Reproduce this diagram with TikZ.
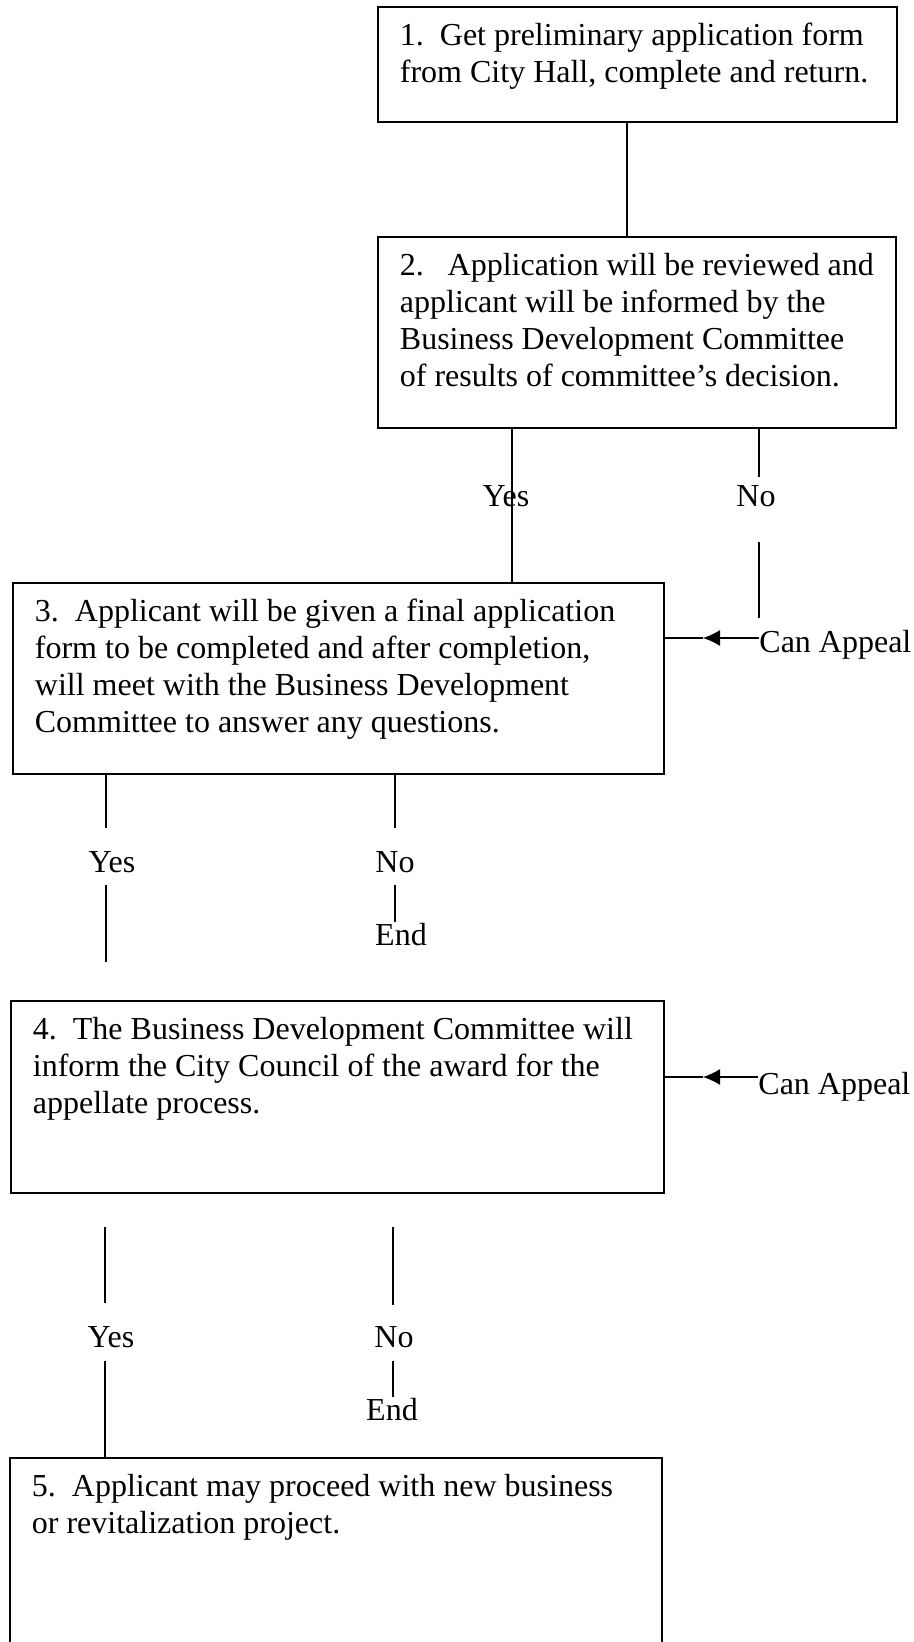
\documentclass[tikz,border=0pt]{standalone}
\usepackage{fontspec}
\setmainfont{Liberation Serif}
\usetikzlibrary{arrows.meta}

\newcommand{\steptextfont}{\fontsize{16}{18.4}\selectfont}
\newcommand{\stepbody}[3]{\parbox[c][#2][t]{#1}{\raggedright\strut#3}}

\tikzset{
	stepbox/.style={draw=black, line width=0.9pt, anchor=north west, inner xsep=11pt, inner ysep=6.5pt, font=\steptextfont},
	lbl/.style={inner sep=0pt, anchor=base, font=\steptextfont},
	link/.style={draw=black, line width=0.6pt},
	appealtip/.style={-{Latex[length=8.5pt,width=8pt]}},
}

\begin{document}
\begin{tikzpicture}[x=0.5pt, y=-0.5pt, line cap=butt]
	\useasboundingbox (0,0) rectangle (914,1642);
	\clip (0,0) rectangle (914,1642);

	%Steps
	\node[stepbox] (s1) at (377,6) {\stepbody{237.5pt}{44.5pt}{1.\ \ Get preliminary application form\\ from City Hall, complete and return.}};
	\node[stepbox] (s2) at (377,236) {\stepbody{237pt}{82.5pt}{2.\ \ \ Application will be reviewed and\\ applicant will be informed by the\\ Business Development Committee\\ of results of committee's decision.}};
	\node[stepbox] (s3) at (12,582) {\stepbody{303.5pt}{82.5pt}{3.\ \ Applicant will be given a final application\\ form to be completed and after completion,\\ will meet with the Business Development\\ Committee to answer any questions.}};
	\node[stepbox] (s4) at (10,1000) {\stepbody{304.5pt}{83pt}{4.\ \ The Business Development Committee will\\ inform the City Council of the award for the\\ appellate process.}};
	\node[stepbox] (s5) at (9,1457) {\stepbody{304pt}{137pt}{5.\ \ Applicant may proceed with new business\\ or revitalization project.}};

	%Labels
	\node[lbl] (yes1) at (506,506) {Yes};
	\node[lbl] (no1) at (756,506) {No};
	\node[lbl, anchor=base west] (appeal1) at (759,652) {Can Appeal};
	\node[lbl] (yes2) at (112,872) {Yes};
	\node[lbl] (no2) at (395,872) {No};
	\node[lbl] (end2) at (401,945) {End};
	\node[lbl, anchor=base west] (appeal2) at (758,1094) {Can Appeal};
	\node[lbl] (yes3) at (111,1347) {Yes};
	\node[lbl] (no3) at (394,1347) {No};
	\node[lbl] (end3) at (392,1420) {End};

	%Coordinates
	\coordinate (c12) at (627,0);
	\coordinate (c23) at (512,0);
	\coordinate (n1a) at (759,477);
	\coordinate (n1b) at (759,542);
	\coordinate (n1c) at (759,618);
	\coordinate (t1) at (703,638);
	\coordinate (y2a) at (106,828);
	\coordinate (y2b) at (106,885);
	\coordinate (y2c) at (106,962);
	\coordinate (n2a) at (395,828);
	\coordinate (n2b) at (395,885);
	\coordinate (t2) at (703,1077);
	\coordinate (y3a) at (105,1227);
	\coordinate (y3b) at (105,1303);
	\coordinate (y3c) at (105,1361);
	\coordinate (n3a) at (393,1227);
	\coordinate (n3b) at (393,1305);
	\coordinate (n3c) at (393,1361);

	%Links
	\draw[link] (s1.south -| c12) -- (s2.north -| c12);
	\draw[link] (s2.south -| c23) -- (s3.north -| c23);
	\draw[link] (s2.south -| n1a) -- (n1a);
	\draw[link] (n1b) -- (n1c);
	\draw[link, appealtip] (appeal1.west |- t1) -- (t1);
	\draw[link, line width=1.3pt] (t1) -- (s3.east |- t1);

	\draw[link] (s3.south -| y2a) -- (y2a);
	\draw[link] (y2b) -- (y2c);
	\draw[link] (s3.south -| n2a) -- (n2a);
	\draw[link] (n2b) -- (end2.north -| n2b);
	\draw[link, appealtip] (appeal2.west |- t2) -- (t2);
	\draw[link, line width=1.3pt] (t2) -- (s4.east |- t2);

	\draw[link] (y3a) -- (y3b);
	\draw[link] (y3c) -- (s5.north -| y3c);
	\draw[link] (n3a) -- (n3b);
	\draw[link] (n3c) -- (end3.north -| n3c);
\end{tikzpicture}
\end{document}
